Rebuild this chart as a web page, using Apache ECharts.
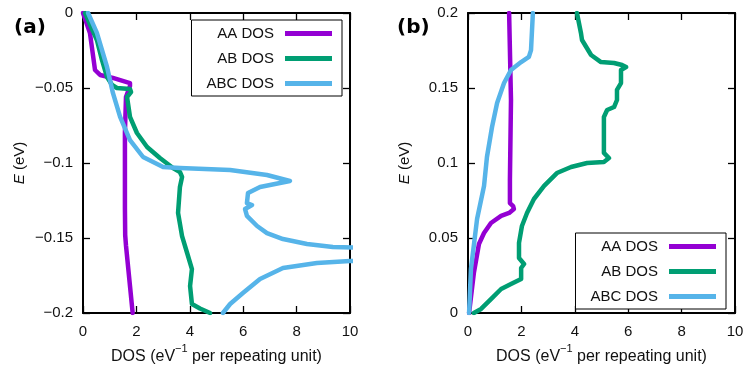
<!DOCTYPE html>
<html>
<head>
<meta charset="utf-8">
<script src="https://cdn.jsdelivr.net/npm/echarts@6/dist/echarts.min.js"></script>
<style>
  html, body { margin: 0; padding: 0; background: #fff; }
  #chart { width: 748px; height: 373px; }
</style>
</head>
<body>
<div id="chart"></div>
<script>
// series names / colours
const seriesNames = ['AA DOS', 'AB DOS', 'ABC DOS'];
const seriesColors = ['#9400d3', '#009e73', '#56b4e9'];

// panel (a): [DOS, E] pairs, E below zero
const aaDosA = [[0, 0], [0.26, -0.0133], [0.45, -0.038], [0.64, -0.0413], [1.12, -0.0433],
  [1.76, -0.0467], [1.76, -0.0487], [1.61, -0.056], [1.57, -0.08], [1.57, -0.111],
  [1.57, -0.13], [1.58, -0.148], [1.61, -0.155], [1.76, -0.182], [1.86, -0.2]];
const abDosA = [[0.075, 0], [0.52, -0.018], [0.71, -0.0313], [0.9, -0.0427], [1.09, -0.048],
  [1.27, -0.05], [1.76, -0.0507], [1.8, -0.0527], [1.65, -0.056], [1.76, -0.0693],
  [2.02, -0.08], [2.4, -0.0893], [2.88, -0.0967], [3.37, -0.1033], [3.63, -0.106],
  [3.71, -0.1093], [3.63, -0.116], [3.56, -0.1333], [3.71, -0.1487], [3.9, -0.16],
  [4.08, -0.1707], [4.01, -0.182], [4.08, -0.194], [4.38, -0.197], [4.76, -0.2]];
const abcDosA = [[0.19, 0], [0.52, -0.0133], [0.9, -0.036], [1.12, -0.0533], [1.39, -0.0693],
  [1.76, -0.0847], [2.25, -0.096], [3.0, -0.1027], [3.63, -0.1033], [5.51, -0.1047],
  [6.89, -0.108], [7.75, -0.112], [6.63, -0.116], [6.18, -0.12], [6.14, -0.1267],
  [6.33, -0.128], [6.07, -0.1307], [6.14, -0.1353], [6.52, -0.142], [6.89, -0.1467],
  [7.49, -0.1507], [8.39, -0.154], [9.36, -0.156], [10.5, -0.1565], [11, -0.16],
  [10.5, -0.1651], [10, -0.1653], [8.76, -0.1667], [7.49, -0.17], [6.63, -0.1773],
  [5.99, -0.1867], [5.51, -0.194], [5.24, -0.2]];

// panel (b): [DOS, E] pairs, E above zero
const aaDosB = [[0.04, 0], [0.22, 0.0267], [0.41, 0.046], [0.6, 0.0533], [0.86, 0.06],
  [1.24, 0.0647], [1.54, 0.0667], [1.72, 0.0693], [1.69, 0.0713], [1.57, 0.0733],
  [1.57, 0.0887], [1.61, 0.142], [1.54, 0.2]];
const abDosB = [[0.22, 0], [0.49, 0.0027], [0.86, 0.0093], [1.24, 0.016], [1.61, 0.0193],
  [1.99, 0.0227], [1.99, 0.03], [2.1, 0.0327], [1.91, 0.0367], [1.91, 0.0467],
  [2.02, 0.058], [2.21, 0.0667], [2.47, 0.076], [2.85, 0.0847], [3.33, 0.0933],
  [3.86, 0.0973], [4.46, 0.1], [5.09, 0.1007], [5.28, 0.1033], [5.09, 0.1067],
  [5.09, 0.12], [5.09, 0.1307], [5.21, 0.1353], [5.47, 0.1373], [5.58, 0.142],
  [5.58, 0.1487], [5.73, 0.1533], [5.73, 0.162], [5.92, 0.164], [5.77, 0.1653],
  [5.47, 0.1667], [4.98, 0.1673], [4.61, 0.172], [4.27, 0.182], [4.23, 0.1867], [4.08, 0.2]];
const abcDosB = [[0.04, 0], [0.11, 0.0293], [0.34, 0.0627], [0.6, 0.0847], [0.71, 0.104],
  [0.9, 0.124], [1.09, 0.14], [1.35, 0.1533], [1.61, 0.162], [1.99, 0.1673],
  [2.28, 0.1707], [2.36, 0.1753], [2.43, 0.2]];

// axis ranges / ticks
const xTicks = [0, 10, 2];
const yRangeA = [-0.2, 0, 0.05];
const yRangeB = [0, 0.2, 0.05];

const font = 'Liberation Sans';
const minus = v => String(v).replace('-', '\u2212');

function frameX(gridIndex, pos) {
  return {
    type: 'value', gridIndex: gridIndex, position: pos,
    min: xTicks[0], max: xTicks[1], interval: xTicks[2],
    axisLine: { show: true, onZero: false, lineStyle: { color: '#000', width: 2 } },
    axisTick: { show: true, inside: true, length: 7, lineStyle: { color: '#000', width: 1.3 } },
    axisLabel: { show: pos === 'bottom', margin: 11, color: '#111', fontFamily: font, fontSize: 15 },
    splitLine: { show: false },
    name: pos === 'bottom' ? 'DOS (eV{sup|\u22121} per repeating unit)' : '',
    nameLocation: 'middle', nameGap: 30,
    nameTextStyle: { color: '#111', fontFamily: font, fontSize: 16, lineHeight: 26,
      rich: { sup: { fontSize: 11, fontFamily: font, color: '#111', lineHeight: 10, verticalAlign: 'top' } } }
  };
}

function frameY(gridIndex, pos, range) {
  return {
    type: 'value', gridIndex: gridIndex, position: pos,
    min: range[0], max: range[1], interval: range[2],
    axisLine: { show: true, onZero: false, lineStyle: { color: '#000', width: 2 } },
    axisTick: { show: true, inside: true, length: 7, lineStyle: { color: '#000', width: 1.3 } },
    axisLabel: { show: pos === 'left', margin: 10, color: '#111', fontFamily: font, fontSize: 15,
      formatter: minus },
    splitLine: { show: false },
    name: pos === 'left' ? '{i|E} (eV)' : '',
    nameLocation: 'middle', nameGap: 56,
    nameTextStyle: { color: '#111', fontFamily: font, fontSize: 15,
      rich: { i: { fontStyle: 'italic', fontFamily: font, fontSize: 15, color: '#111' } } }
  };
}

function legendBox(pos) {
  return Object.assign({
    data: seriesNames,
    orient: 'vertical', align: 'right',
    icon: 'rect', itemWidth: 47, itemHeight: 5, itemGap: 10,
    padding: [6, 10, 5, 15],
    borderColor: '#000', borderWidth: 1, borderRadius: 0,
    backgroundColor: '#fff',
    selectedMode: false,
    textStyle: { color: '#111', fontFamily: font, fontSize: 15, padding: [0, 6, 0, 0] }
  }, pos);
}

function line(name, color, data, idx) {
  return {
    name: name, type: 'line', data: data,
    xAxisIndex: idx, yAxisIndex: idx,
    symbol: 'none', clip: true, animation: false,
    itemStyle: { color: color },
    lineStyle: { color: color, width: 4.5, join: 'round', cap: 'round' }
  };
}

const chart = echarts.init(document.getElementById('chart'), null, { renderer: 'canvas' });
chart.setOption({
  backgroundColor: '#fff',
  animation: false,
  title: [
    { text: '(a)', left: 9, top: 13, textStyle: { fontFamily: 'DejaVu Sans', fontWeight: 'bold', fontSize: 20, color: '#000' } },
    { text: '(b)', left: 392, top: 13, textStyle: { fontFamily: 'DejaVu Sans', fontWeight: 'bold', fontSize: 20, color: '#000' } }
  ],
  grid: [
    { left: 83, right: 398, top: 13, bottom: 60, outerBoundsMode: 'none' },
    { left: 468, right: 13, top: 13, bottom: 60, outerBoundsMode: 'none' }
  ],
  xAxis: [frameX(0, 'bottom'), frameX(1, 'bottom'), frameX(0, 'top'), frameX(1, 'top')],
  yAxis: [frameY(0, 'left', yRangeA), frameY(1, 'left', yRangeB),
          frameY(0, 'right', yRangeA), frameY(1, 'right', yRangeB)],
  legend: [legendBox({ right: 406, top: 20 }), legendBox({ right: 22, top: 233 })],
  series: [
    line(seriesNames[0], seriesColors[0], aaDosA, 0),
    line(seriesNames[1], seriesColors[1], abDosA, 0),
    line(seriesNames[2], seriesColors[2], abcDosA, 0),
    line(seriesNames[0], seriesColors[0], aaDosB, 1),
    line(seriesNames[1], seriesColors[1], abDosB, 1),
    line(seriesNames[2], seriesColors[2], abcDosB, 1)
  ]
});
</script>
</body>
</html>
